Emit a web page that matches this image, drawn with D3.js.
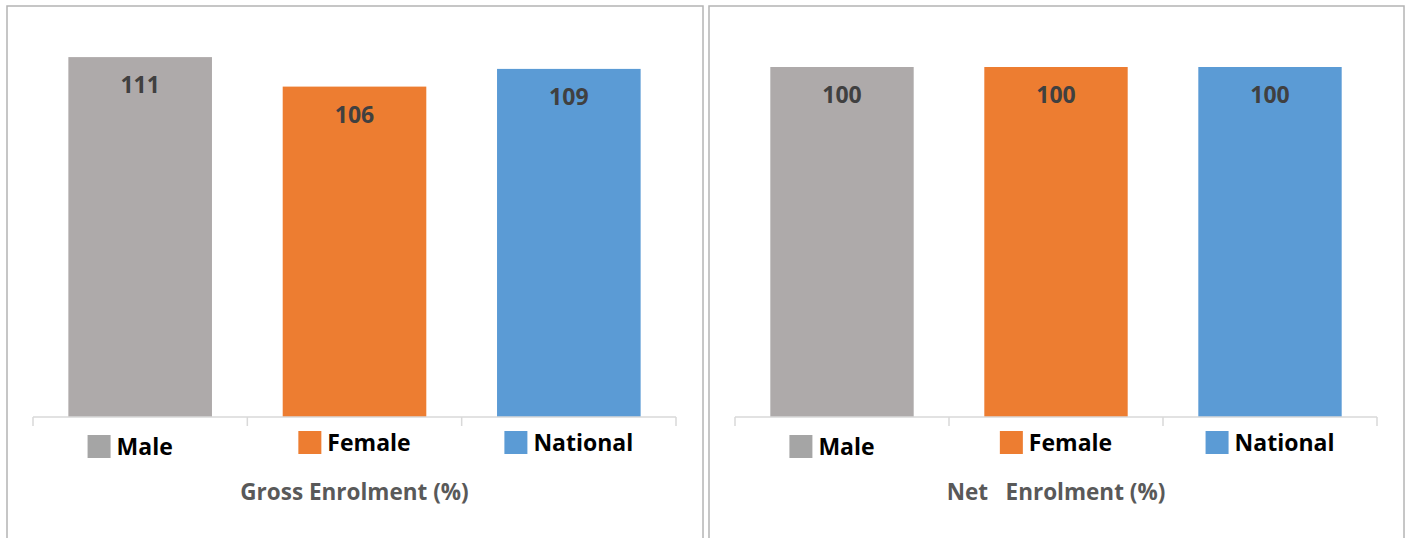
<!DOCTYPE html>
<html>
<head>
<meta charset="utf-8">
<script src="https://cdn.jsdelivr.net/npm/d3@7"></script>
<style>
    body { margin: 0; background: #fff; }
    svg { display: block; font-family: "Open Sans", sans-serif; }
    .title { white-space: pre; }
</style>
</head>
<body>
<svg id="chart" width="1411" height="538"></svg>
<script>
// --- data ---
const categories = ["Male", "Female", "National"];
const grossValues = [111, 106, 109];
const netValues = [100, 100, 100];
const panelTitles = ["Gross Enrolment (%)", "Net   Enrolment (%)"];

// bar fills and the small legend squares under the axis
const barColor = d3.scaleOrdinal().domain(categories).range(["#aeaaaa", "#ed7d31", "#5b9bd5"]);
const keyColor = d3.scaleOrdinal().domain(categories).range(["#a5a5a5", "#ed7d31", "#5b9bd5"]);

const svg = d3.select("#chart");
const baseline = 417;

function drawPanel(left, right, values, yScale, title) {
    const g = svg.append("g");

    // panel frame (bottom runs off the picture)
    g.append("rect")
        .attr("x", left).attr("y", 6)
        .attr("width", right - left).attr("height", 560)
        .attr("fill", "none").attr("stroke", "#b4b4b4").attr("stroke-width", 1.5);

    const x = d3.scaleBand()
        .domain(categories)
        .range([left + 26, right - 27])
        .paddingInner(0.33)
        .paddingOuter(0.165);

    const data = categories.map((c, i) => ({ cat: c, value: values[i] }));

    g.selectAll(".bar").data(data).join("rect")
        .attr("class", "bar")
        .attr("x", d => x(d.cat))
        .attr("y", d => yScale(d.value))
        .attr("width", x.bandwidth())
        .attr("height", d => baseline - yScale(d.value))
        .attr("fill", d => barColor(d.cat));

    g.selectAll(".val").data(data).join("text")
        .attr("class", "val")
        .attr("x", d => x(d.cat) + x.bandwidth() / 2)
        .attr("y", d => yScale(d.value) + 36)
        .attr("text-anchor", "middle")
        .attr("font-size", 23).attr("font-weight", 700)
        .attr("fill", "#404040")
        .text(d => d.value);

    // category axis with ticks between categories
    const axis = g.append("g").attr("transform", `translate(0,${baseline})`)
        .call(d3.axisBottom(x).tickSize(0).tickFormat(""));
    axis.select(".domain").remove();
    const [r0, r1] = x.range();
    const step = x.step();
    axis.append("line").attr("x1", r0).attr("x2", r1)
        .attr("stroke", "#d9d9d9").attr("stroke-width", 1.5);
    d3.range(categories.length + 1).forEach(i => {
        const tx = r0 + i * step;
        axis.append("line").attr("x1", tx).attr("x2", tx).attr("y1", 0).attr("y2", 9)
            .attr("stroke", "#d9d9d9").attr("stroke-width", 1.5);
    });

    // labels with coloured squares
    const keys = g.selectAll(".key").data(data).join("g").attr("class", "key");
    keys.append("rect")
        .attr("width", 23).attr("height", 23)
        .attr("y", d => d.cat === "Male" ? 435 : 431)
        .attr("fill", d => keyColor(d.cat));
    keys.append("text")
        .attr("y", d => d.cat === "Male" ? 455 : 451)
        .attr("font-size", 23).attr("font-weight", 700)
        .attr("fill", "#000")
        .text(d => d.cat);
    keys.each(function(d) {
        const k = d3.select(this);
        const tw = k.select("text").node().getComputedTextLength();
        const total = 23 + 6 + tw;
        const shift = d.cat === "Male" ? -10 : 0;
        const start = x(d.cat) + x.bandwidth() / 2 - total / 2 + shift;
        k.select("rect").attr("x", start);
        k.select("text").attr("x", start + 29);
    });

    g.append("text")
        .attr("class", "title")
        .attr("x", (r0 + r1) / 2)
        .attr("y", 500)
        .attr("text-anchor", "middle")
        .attr("font-size", 22.5).attr("font-weight", 700)
        .attr("fill", "#595959")
        .text(title);
}

const yGross = d3.scaleLinear().domain([50, 120]).range([baseline, baseline - 70 * 5.9]);
const yNet = d3.scaleLinear().domain([0, 100]).range([baseline, 67]);

drawPanel(7, 703, grossValues, yGross, panelTitles[0]);
drawPanel(709, 1404, netValues, yNet, panelTitles[1]);
</script>
</body>
</html>
